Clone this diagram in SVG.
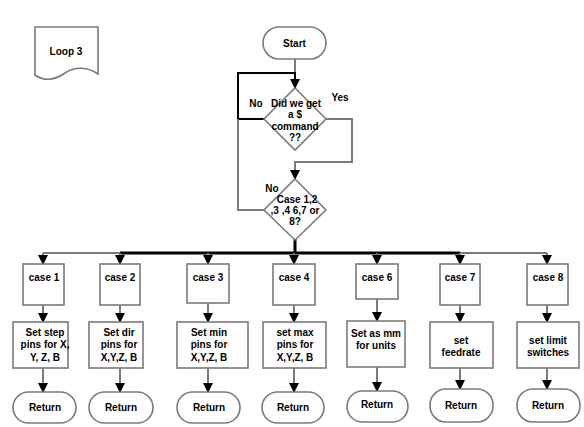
<svg xmlns="http://www.w3.org/2000/svg" width="584" height="427" viewBox="0 0 584 427">
<defs>
<style>
.s{fill:#fff;stroke:#7a7a7a;stroke-width:1.6}
.t{font-family:"Liberation Sans",Arial,sans-serif;font-size:10px;font-weight:bold;fill:#000;text-anchor:middle}
.g{fill:none;stroke:#7a7a7a;stroke-width:2}
.k{fill:none;stroke:#000;stroke-width:2}
.kb{fill:none;stroke:#000;stroke-width:3}
</style>
<marker id="a" markerWidth="10" markerHeight="10" refX="9" refY="5" orient="auto" markerUnits="userSpaceOnUse" viewBox="0 0 10 10">
<path d="M0,0 L10,5 L0,10 Z" fill="#000"/>
</marker>
</defs>
<rect width="584" height="427" fill="#fff"/>

<g id="connectors">
<path class="g" d="M295,59 V73"/>
<path class="k" d="M264,119 H238 V73 H295 V88" marker-end="url(#a)"/>
<path class="g" d="M238,119 V210 H264"/>
<path class="g" d="M326,119 H352 V162 H295 V179" marker-end="url(#a)"/>
<path class="kb" d="M295,239 V253"/>
<path class="g" d="M43,253 H547"/>
<path class="kb" d="M120,253 H460"/>
<path class="g" d="M43,253 V264" marker-end="url(#a)"/>
<path class="g" d="M120,253 V264" marker-end="url(#a)"/>
<path class="g" d="M208,253 V264" marker-end="url(#a)"/>
<path class="g" d="M294,253 V264" marker-end="url(#a)"/>
<path class="g" d="M377,253 V264" marker-end="url(#a)"/>
<path class="g" d="M460,253 V264" marker-end="url(#a)"/>
<path class="g" d="M547,253 V264" marker-end="url(#a)"/>
<path class="g" d="M43,305 V322" marker-end="url(#a)"/>
<path class="g" d="M120,305 V322" marker-end="url(#a)"/>
<path class="g" d="M208,303 V322" marker-end="url(#a)"/>
<path class="g" d="M294,305 V322" marker-end="url(#a)"/>
<path class="g" d="M377,299 V321" marker-end="url(#a)"/>
<path class="g" d="M460,305 V322" marker-end="url(#a)"/>
<path class="g" d="M547,305 V322" marker-end="url(#a)"/>
<path class="g" d="M43,368 V392" marker-end="url(#a)"/>
<path class="g" d="M120,368 V392" marker-end="url(#a)"/>
<path class="g" d="M208,368 V392" marker-end="url(#a)"/>
<path class="g" d="M294,368 V392" marker-end="url(#a)"/>
<path class="g" d="M377,367 V391" marker-end="url(#a)"/>
<path class="g" d="M460,368 V389" marker-end="url(#a)"/>
<path class="g" d="M547,368 V389" marker-end="url(#a)"/>
</g>

<g id="loop3">
<path class="s" d="M35,75 V27 H98 V74 C88,67 75,66 65,73 C55,80 45,82 35,75 Z"/>
<text class="t" x="66" y="55">Loop 3</text>
</g>

<g id="start">
<rect class="s" x="263" y="27" width="63" height="32" rx="16"/>
<text class="t" x="294.5" y="47">Start</text>
</g>

<g id="decision1">
<path class="s" d="M295,88 L326,119 L295,150 L264,119 Z"/>
<text class="t" x="296" y="107">Did we get</text>
<text class="t" x="295" y="118">a $</text>
<text class="t" x="295" y="130">command</text>
<text class="t" x="295" y="141">??</text>
</g>
<text class="t" x="256" y="107">No</text>
<text class="t" x="340" y="101">Yes</text>

<g id="decision2">
<path class="s" d="M295,179 L326,210 L295,240 L264,210 Z"/>
<text class="t" x="297" y="203">Case 1,2</text>
<text class="t" x="295" y="214">,3 ,4 6,7 or</text>
<text class="t" x="295" y="225">8?</text>
</g>
<text class="t" x="272" y="192">No</text>

<g id="case1"><rect class="s" x="23" y="264" width="41" height="41"/><text class="t" x="44" y="281">case 1</text></g>
<g id="case2"><rect class="s" x="100" y="264" width="40" height="41"/><text class="t" x="120" y="281">case 2</text></g>
<g id="case3"><rect class="s" x="187" y="264" width="42" height="39"/><text class="t" x="208" y="281">case 3</text></g>
<g id="case4"><rect class="s" x="273" y="264" width="42" height="41"/><text class="t" x="294" y="281">case 4</text></g>
<g id="case6"><rect class="s" x="356" y="264" width="42" height="35"/><text class="t" x="377" y="281">case 6</text></g>
<g id="case7"><rect class="s" x="440" y="264" width="40" height="41"/><text class="t" x="460" y="281">case 7</text></g>
<g id="case8"><rect class="s" x="527" y="264" width="41" height="41"/><text class="t" x="548" y="281">case 8</text></g>

<g id="act1"><rect class="s" x="13" y="322" width="55" height="46"/>
<text class="t" x="45" y="336">Set step</text><text class="t" x="45" y="348">pins for X,</text><text class="t" x="45" y="361">Y, Z, B</text></g>
<g id="act2"><rect class="s" x="89" y="322" width="54" height="46"/>
<text class="t" x="119" y="336">Set dir</text><text class="t" x="119" y="348">pins for</text><text class="t" x="119" y="361">X,Y,Z, B</text></g>
<g id="act3"><rect class="s" x="177" y="322" width="71" height="46"/>
<text class="t" x="209" y="336">Set min</text><text class="t" x="209" y="348">pins for</text><text class="t" x="209" y="361">X,Y,Z, B</text></g>
<g id="act4"><rect class="s" x="263" y="322" width="63" height="46"/>
<text class="t" x="295" y="336">set max</text><text class="t" x="295" y="348">pins for</text><text class="t" x="295" y="361">X,Y,Z, B</text></g>
<g id="act6"><rect class="s" x="347" y="321" width="58" height="46"/>
<text class="t" x="376" y="337">Set as mm</text><text class="t" x="376" y="349">for units</text></g>
<g id="act7"><rect class="s" x="430" y="322" width="63" height="46"/>
<text class="t" x="461" y="344">set</text><text class="t" x="461" y="356">feedrate</text></g>
<g id="act8"><rect class="s" x="517" y="322" width="62" height="46"/>
<text class="t" x="548" y="344">set limit</text><text class="t" x="548" y="356">switches</text></g>

<g id="ret1"><rect class="s" x="13" y="392" width="63" height="31" rx="15.5"/><text class="t" x="45" y="411">Return</text></g>
<g id="ret2"><rect class="s" x="89" y="392" width="64" height="31" rx="15.5"/><text class="t" x="121" y="411">Return</text></g>
<g id="ret3"><rect class="s" x="177" y="392" width="63" height="31" rx="15.5"/><text class="t" x="209" y="411">Return</text></g>
<g id="ret4"><rect class="s" x="262" y="392" width="62" height="31" rx="15.5"/><text class="t" x="293" y="411">Return</text></g>
<g id="ret6"><rect class="s" x="347" y="391" width="61" height="31" rx="15.5"/><text class="t" x="377" y="408">Return</text></g>
<g id="ret7"><rect class="s" x="430" y="389" width="63" height="33" rx="16"/><text class="t" x="461" y="409">Return</text></g>
<g id="ret8"><rect class="s" x="517" y="389" width="63" height="33" rx="16"/><text class="t" x="548" y="409">Return</text></g>
</svg>
